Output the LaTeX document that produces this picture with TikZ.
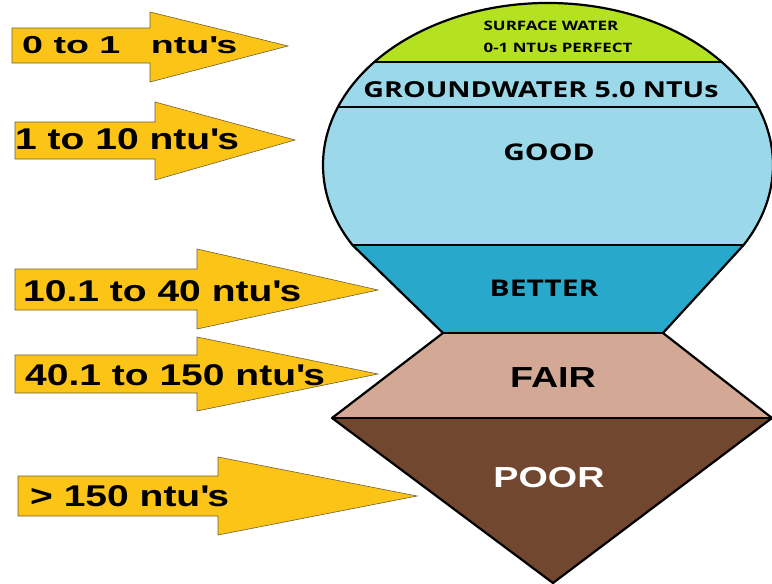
\documentclass[tikz,border=0pt]{standalone}
\usepackage{fontspec}
\usepackage{tikz}
\usetikzlibrary{calc}
\newfontfamily\arrowfont{Liberation Sans}[FakeStretch=1.3]
\newfontfamily\bandfont{Open Sans}[FakeStretch=1.3]
\definecolor{surface}{RGB}{180,226,32}
\definecolor{ground}{RGB}{155,216,233}
\definecolor{better}{RGB}{40,168,202}
\definecolor{fair}{RGB}{211,169,150}
\definecolor{poor}{RGB}{114,71,48}
\definecolor{arrowgold}{RGB}{251,196,22}
\definecolor{arrowedge}{RGB}{110,95,60}
\tikzset{
  ntuarrow/.style={fill=arrowgold, draw=arrowedge, line width=0.6pt},
  ntulabel/.style={anchor=west, inner sep=0pt, font=\arrowfont\bfseries\fontsize{30}{35}\selectfont},
  bandlabel/.style={inner sep=0pt, font=\bandfont\bfseries\fontsize{23}{27}\selectfont},
  blocklabel/.style={inner sep=0pt, font=\arrowfont\bfseries\fontsize{29}{34}\selectfont},
  bandline/.style={line width=2.2pt, black},
  vessel/.style={insert path={(352.4,245) arc[start angle=150.4, end angle=389.6, x radius=225, y radius=162]
    -- (663,333) -- (772,418) -- (553,583) -- (332,418) -- (443,333) -- cycle}},
}

\begin{document}
\begin{tikzpicture}[x=1pt,y=-1pt]
  \useasboundingbox (0,0) rectangle (772,584);
  % bands inside the vessel
  \begin{scope}
    \clip[vessel];
    \fill[surface] (300,0) rectangle (780,62);
    \fill[ground] (300,62) rectangle (780,245);
    \fill[better] (300,245) rectangle (780,333);
    \fill[fair] (300,333) rectangle (780,418);
    \fill[poor] (300,418) rectangle (780,590);
    \foreach \y in {62,107,245,333,418} \draw[bandline] (300,\y) -- (780,\y);
  \end{scope}
  \draw[bandline, line join=round, vessel];
  % band texts
  \node[bandlabel, font=\bandfont\bfseries\fontsize{13}{16}\selectfont] (surf) at (551,26) {SURFACE WATER};
  \node[bandlabel, font=\bandfont\bfseries\fontsize{13}{16}\selectfont] (perfect) at (558,48) {0-1 NTUs PERFECT};
  \node[bandlabel, font=\bandfont\bfseries\fontsize{22}{26}\selectfont] (gw) at (541,90) {GROUNDWATER 5.0 NTUs};
  \node[bandlabel] (good) at (549,152) {GOOD};
  \node[bandlabel] (better) at (544,288) {BETTER};
  \node[blocklabel] (fair) at (553,378) {FAIR};
  \node[blocklabel, white] (poor) at (549,478) {POOR};
  % arrows
  \draw[ntuarrow] (12,28) -- (150,28) -- (150,12) -- (288,46) -- (150,82) -- (150,63) -- (12,63) -- cycle;
  \draw[ntuarrow] (15,122) -- (155,122) -- (155,102) -- (295,140) -- (155,180) -- (155,159) -- (15,159) -- cycle;
  \draw[ntuarrow] (15,269) -- (197,269) -- (197,249) -- (378,290) -- (197,329) -- (197,310) -- (15,310) -- cycle;
  \draw[ntuarrow] (15,355) -- (197,355) -- (197,337) -- (378,374) -- (197,411) -- (197,393) -- (15,393) -- cycle;
  \draw[ntuarrow] (18,476) -- (218,476) -- (218,457) -- (417,496) -- (218,535) -- (218,516) -- (18,516) -- cycle;
  % arrow texts
  \node[ntulabel, font=\arrowfont\bfseries\fontsize{24.5}{28}\selectfont] (r1) at (22,45)
    {\scalebox{1.18}[1]{0 to 1\hspace{26pt}ntu\textquotesingle s}};
  \node[ntulabel] (r2) at (15,139) {1 to 10 ntu\textquotesingle s};
  \node[ntulabel] (r3) at (23,291) {10.1 to 40 ntu\textquotesingle s};
  \node[ntulabel] (r4) at (25,375) {40.1 to 150 ntu\textquotesingle s};
  \node[ntulabel] (r5) at (30,496) {> 150 ntu\textquotesingle s};
\end{tikzpicture}
\end{document}
